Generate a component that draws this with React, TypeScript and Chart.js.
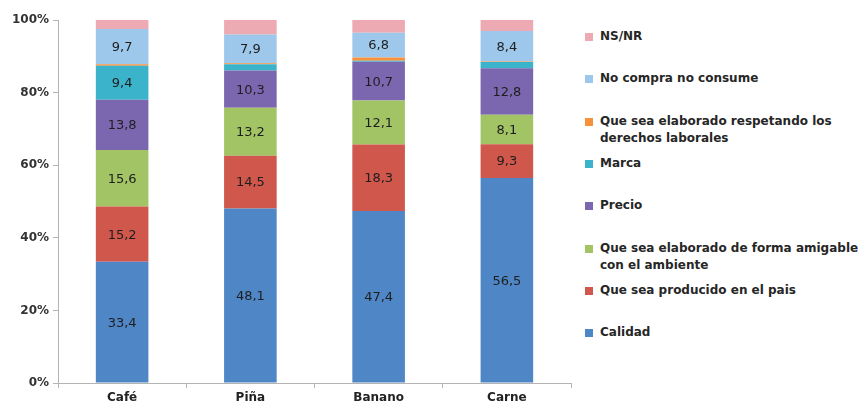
import { useEffect, useRef } from "react";
import { Chart, registerables } from "chart.js";

Chart.register(...registerables);

const categories = ["Café", "Piña", "Banano", "Carne"];

const calidad = [33.4, 48.1, 47.4, 56.5];
const pais = [15.2, 14.5, 18.3, 9.3];
const ambiente = [15.6, 13.2, 12.1, 8.1];
const precio = [13.8, 10.3, 10.7, 12.8];
const marca = [9.4, 1.7, 0.3, 1.7];
const laborales = [0.4, 0.3, 0.9, 0.2];
const noCompra = [9.7, 7.9, 6.8, 8.4];
const nsnr = [2.5, 4.0, 3.5, 3.0];

const yTicks = [0, 20, 40, 60, 80, 100];

const seriesLabels: string[][] = [
  ["Calidad"],
  ["Que sea producido en el pais"],
  ["Que sea elaborado de forma amigable", "con el ambiente"],
  ["Precio"],
  ["Marca"],
  ["Que sea elaborado respetando los", "derechos laborales"],
  ["No compra no consume"],
  ["NS/NR"],
];
const seriesValues = [calidad, pais, ambiente, precio, marca, laborales, noCompra, nsnr];
const seriesColors = [
  "#4f86c6",
  "#d0574b",
  "#a2c465",
  "#7b67b0",
  "#3bb4cb",
  "#f6923c",
  "#9dc8ec",
  "#eeaab2",
];

const FONT = "'DejaVu Sans', sans-serif";

const labelPlugin = {
  id: "segmentLabels",
  afterDatasetsDraw(chart: any) {
    const ctx = chart.ctx;
    ctx.save();
    ctx.font = `13px ${FONT}`;
    ctx.fillStyle = "#1e1e1e";
    ctx.textAlign = "center";
    ctx.textBaseline = "middle";
    chart.data.datasets.forEach((ds: any, di: number) => {
      const meta = chart.getDatasetMeta(di);
      meta.data.forEach((el: any, i: number) => {
        const v = ds.data[i];
        if (v >= 5) {
          const y = (el.y + el.base) / 2;
          ctx.fillText(String(v).replace(".", ","), el.x, y + 1);
        }
      });
    });
    ctx.restore();
  },
};

export default function App() {
  const ref = useRef<HTMLCanvasElement>(null);

  useEffect(() => {
    document.body.style.margin = "0";
    if (!ref.current) return;
    const chart = new Chart(ref.current, {
      type: "bar",
      data: {
        labels: categories,
        datasets: seriesValues.map((vals, i) => ({
          label: seriesLabels[i].join(" "),
          data: vals,
          backgroundColor: seriesColors[i],
          borderWidth: 0,
          categoryPercentage: 1,
          barPercentage: 0.41,
        })),
      },
      options: {
        animation: false,
        responsive: true,
        maintainAspectRatio: false,
        layout: { padding: { top: 20, right: 3, left: 0, bottom: 0 } },
        plugins: {
          legend: { display: false },
          tooltip: { enabled: false },
        },
        scales: {
          x: {
            stacked: true,
            afterFit: (axis: any) => {
              axis.height = 27;
            },
            grid: {
              drawOnChartArea: false,
              drawTicks: true,
              tickLength: 5,
              offset: true,
              color: "#b4b4b4",
            },
            border: { color: "#b4b4b4", width: 1 },
            ticks: {
              padding: 3,
              color: "#222",
              font: { family: FONT, size: 12, weight: "bold" },
            },
          },
          y: {
            stacked: true,
            min: 0,
            max: 100,
            afterFit: (axis: any) => {
              axis.width = 58;
            },
            afterBuildTicks: (axis: any) => {
              axis.ticks = yTicks.map((v) => ({ value: v }));
            },
            grid: {
              drawOnChartArea: false,
              drawTicks: true,
              tickLength: 5,
              color: "#b4b4b4",
            },
            border: { color: "#b4b4b4", width: 1 },
            ticks: {
              padding: 4,
              color: "#333",
              font: { family: FONT, size: 12, weight: "bold" },
              callback: (v: any) => `${v}%`,
            },
          },
        },
      },
      plugins: [labelPlugin],
    });
    return () => chart.destroy();
  }, []);

  const legendOrder = seriesLabels.map((_, i) => i).reverse();

  return (
    <div style={{ position: "relative", width: 858, height: 410, background: "#fff" }}>
      <div style={{ position: "absolute", left: 0, top: 0, width: 574, height: 410 }}>
        <canvas ref={ref} />
      </div>
      {legendOrder.map((si, k) => (
        <div
          key={si}
          style={{
            position: "absolute",
            left: 585,
            top: 28 + k * 42.3,
            display: "flex",
            alignItems: "flex-start",
            fontFamily: FONT,
            fontWeight: "bold",
            fontSize: 12,
            lineHeight: "17px",
            color: "#262626",
            whiteSpace: "nowrap",
          }}
        >
          <span
            style={{
              display: "inline-block",
              width: 8,
              height: 8,
              marginTop: 5,
              marginRight: 7,
              background: seriesColors[si],
            }}
          />
          <div>
            {seriesLabels[si].map((line, j) => (
              <div key={j}>{line}</div>
            ))}
          </div>
        </div>
      ))}
    </div>
  );
}
